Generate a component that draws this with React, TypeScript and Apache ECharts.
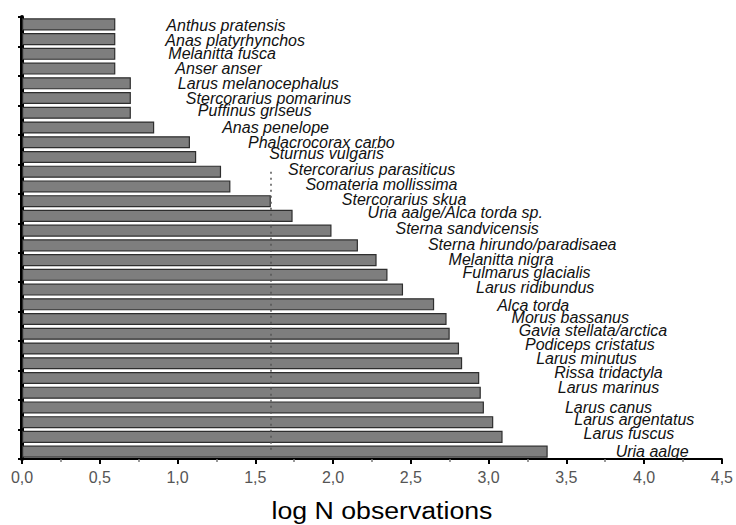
import React, { useEffect, useRef } from "react";
import * as echarts from "echarts";

const categories = [
  "Anthus pratensis",
  "Anas platyrhynchos",
  "Melanitta fusca",
  "Anser anser",
  "Larus melanocephalus",
  "Stercorarius pomarinus",
  "Puffinus griseus",
  "Anas penelope",
  "Phalacrocorax carbo",
  "Sturnus vulgaris",
  "Stercorarius parasiticus",
  "Somateria mollissima",
  "Stercorarius skua",
  "Uria aalge/Alca torda sp.",
  "Sterna sandvicensis",
  "Sterna hirundo/paradisaea",
  "Melanitta nigra",
  "Fulmarus glacialis",
  "Larus ridibundus",
  "Alca torda",
  "Morus bassanus",
  "Gavia stellata/arctica",
  "Podiceps cristatus",
  "Larus minutus",
  "Rissa tridactyla",
  "Larus marinus",
  "Larus canus",
  "Larus argentatus",
  "Larus fuscus",
  "Uria aalge",
];

const logObservations = [
  0.6, 0.6, 0.6, 0.6, 0.7, 0.7, 0.7, 0.85, 1.08, 1.12, 1.28, 1.34, 1.6, 1.74,
  1.99, 2.16, 2.28, 2.35, 2.45, 2.65, 2.73, 2.75, 2.81, 2.83, 2.94, 2.95, 2.97,
  3.03, 3.09, 3.38,
];

const xTicks = [0, 0.5, 1, 1.5, 2, 2.5, 3, 3.5, 4, 4.5];
const referenceValue = 1.6;
const axisTitle = "log N observations";

// layout only: horizontal gap (px) between bar end and its label, and vertical nudge
const labelGap = [
  51, 50, 53, 60, 47, 55, 67, 68, 58, 73, 67, 75, 71, 75, 64, 70, 72, 75, 73, 63,
  65, 69, 66, 74, 75, 77, 81, 81, 81, 68,
];
const labelDy = [
  1, 1, 0, 0, 0, 0, -2, 0, 0, -3, -2, -2, -2, -3, -2, -1, -1, -2, -2, 1, -2, -3,
  -4, -5, -5, -5, 0, -3, -3, 0,
];

export default function App() {
  const ref = useRef<HTMLDivElement>(null);

  useEffect(() => {
    document.body.style.margin = "0";
    if (!ref.current) return;
    const chart = echarts.init(ref.current, undefined, { renderer: "svg" });
    const fmt = (v: number) => v.toFixed(1).replace(".", ",");
    chart.setOption({
      animation: false,
      backgroundColor: "#ffffff",
      grid: { left: 22, right: 10, top: 17, bottom: 66, containLabel: false },
      xAxis: {
        type: "value",
        min: xTicks[0],
        max: xTicks[xTicks.length - 1],
        interval: 0.5,
        axisLine: { show: true, lineStyle: { color: "#000", width: 2 } },
        axisTick: { show: true, length: 5, lineStyle: { color: "#000", width: 2 } },
        minorTick: { show: true, splitNumber: 2, length: 3, lineStyle: { color: "#777", width: 1.5 } },
        splitLine: { show: false },
        axisLabel: {
          formatter: (v: number) => fmt(v),
          color: "#555",
          fontSize: 16,
          fontFamily: "Liberation Sans, Arial, sans-serif",
          margin: 10,
        },
      },
      yAxis: {
        type: "category",
        data: categories,
        inverse: true,
        axisLine: { show: true, lineStyle: { color: "#000", width: 4 } },
        axisTick: { show: true, length: 4, lineStyle: { color: "#000", width: 2 } },
        axisLabel: { show: false },
        splitLine: { show: false },
      },
      graphic: [
        {
          type: "text",
          x: 382,
          y: 511,
          scaleX: 1.16,
          style: {
            text: axisTitle,
            fill: "#000",
            fontSize: 23,
            fontFamily: "Liberation Sans, Arial, sans-serif",
            textAlign: "center",
            textVerticalAlign: "middle",
          },
        },
      ],
      series: [
        {
          type: "bar",
          barCategoryGap: "18%",
          data: logObservations.map((v, i) => ({
            value: v,
            label: { offset: [labelGap[i], labelDy[i]] },
          })),
          itemStyle: {
            color: "#7e7e7e",
            borderColor: "#2e2e2e",
            borderWidth: 1.2,
          },
          label: {
            show: true,
            position: "right",
            distance: 0,
            formatter: (p: any) => categories[p.dataIndex],
            color: "#111",
            fontSize: 16,
            lineHeight: 12,
            fontStyle: "italic",
            fontFamily: "Liberation Sans, Arial, sans-serif",
          },
          markLine: {
            silent: true,
            symbol: "none",
            label: { show: false },
            lineStyle: { color: "#555", type: [2, 4], width: 1.5 },
            data: [
              [
                { coord: [referenceValue, categories[10]] },
                { coord: [referenceValue, categories[categories.length - 1]] },
              ],
            ],
          },
        },
      ],
    });
    return () => chart.dispose();
  }, []);

  return <div ref={ref} style={{ width: 736, height: 525 }} />;
}
